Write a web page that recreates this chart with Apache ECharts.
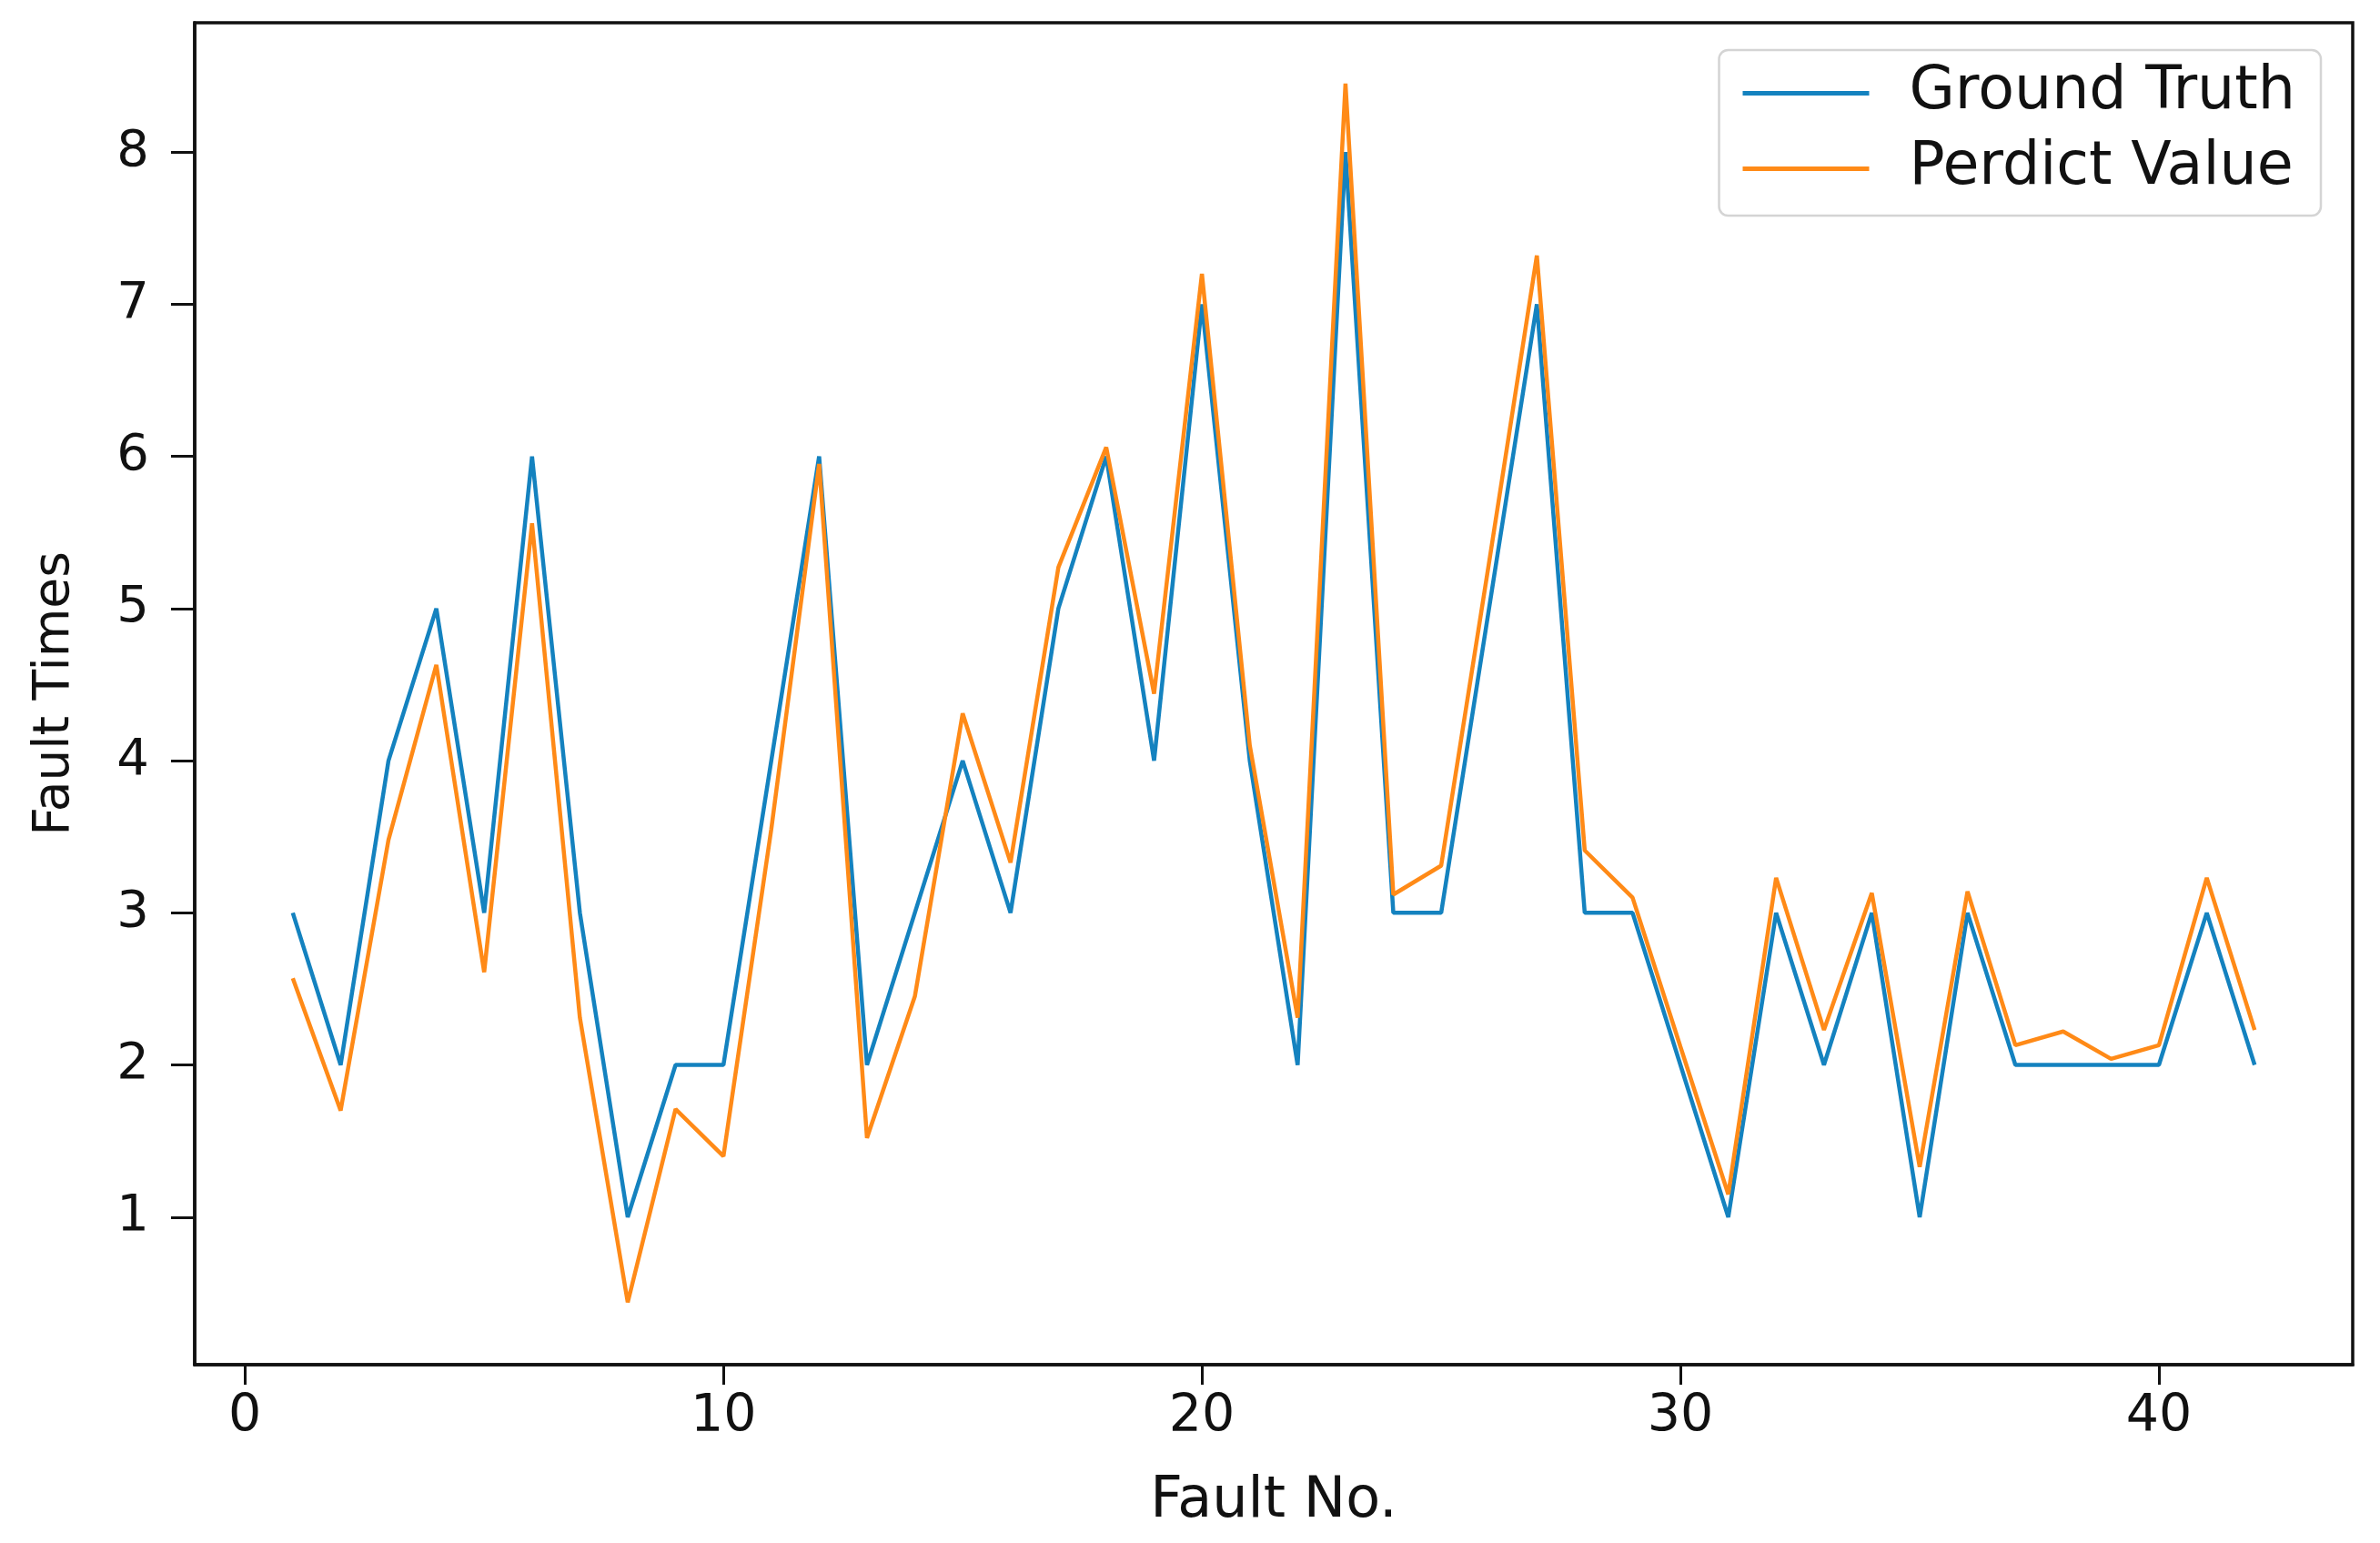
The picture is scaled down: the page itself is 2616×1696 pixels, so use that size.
<!DOCTYPE html>
<html>
<head>
<meta charset="utf-8">
<script src="https://cdn.jsdelivr.net/npm/echarts@6/dist/echarts.min.js"></script>
<style>
html,body{margin:0;padding:0;background:#fff;}
#chart{width:2616px;height:1696px;}
</style>
</head>
<body>
<div id="chart"></div>
<script>
const faultNo = [1,2,3,4,5,6,7,8,9,10,11,12,13,14,15,16,17,18,19,20,21,22,23,24,25,26,27,28,29,30,31,32,33,34,35,36,37,38,39,40,41,42];
const groundTruth = [3,2,4,5,3,6,3,1,2,2,4,6,2,3,4,3,5,6,4,7,4,2,8,3,3,5,7,3,3,2,1,3,2,3,1,3,2,2,2,2,3,2];
const predictValue = [2.57,1.70,3.48,4.63,2.61,5.56,2.31,0.44,1.71,1.40,3.55,5.95,1.52,2.45,4.31,3.33,5.27,6.06,4.44,7.20,4.10,2.31,8.45,3.12,3.31,5.30,7.32,3.41,3.10,2.12,1.15,3.23,2.23,3.13,1.33,3.14,2.13,2.22,2.04,2.13,3.23,2.23];
const xTicks = [0,10,20,30,40];
const yTicks = [1,2,3,4,5,6,7,8];
const seriesNames = ['Ground Truth','Perdict Value'];

const chart = echarts.init(document.getElementById('chart'), null, {renderer:'canvas'});
const font = 'DejaVu Sans';
chart.setOption({
  animation:false,
  backgroundColor:'#fff',
  grid:{left:214,right:30,top:25,bottom:196,show:true,borderColor:'#111',borderWidth:3.5,backgroundColor:'transparent'},
  legend:{
    orient:'vertical', right:65, top:55,
    data:seriesNames.map(n=>({name:n,icon:'rect'})),
    itemWidth:139, itemHeight:5, itemGap:18,
    padding:[15,28,19,26],
    borderColor:'#d4d4d4', borderWidth:2.5, borderRadius:10,
    backgroundColor:'rgba(255,255,255,0.8)',
    textStyle:{fontFamily:font,fontSize:65,color:'#111',lineHeight:65,padding:[0,0,0,39]}
  },
  xAxis:{
    type:'value', min:-1.05, max:44.05,
    name:'Fault No.', nameLocation:'middle', nameGap:120,
    nameTextStyle:{fontFamily:font,fontSize:62,color:'#111'},
    axisLine:{show:true,onZero:false,lineStyle:{color:'#111',width:3.5}},
    axisTick:{show:true,length:22,lineStyle:{color:'#111',width:3},customValues:xTicks},
    axisLabel:{fontFamily:font,fontSize:57,color:'#111',margin:30,customValues:xTicks},
    splitLine:{show:false}
  },
  yAxis:{
    type:'value', min:0.03, max:8.85,
    name:'Fault Times', nameLocation:'middle', nameGap:126, nameRotate:90,
    nameTextStyle:{fontFamily:font,fontSize:55,color:'#111'},
    axisLine:{show:true,onZero:false,lineStyle:{color:'#111',width:3.5}},
    axisTick:{show:true,length:26,lineStyle:{color:'#111',width:3},customValues:yTicks},
    axisLabel:{fontFamily:font,fontSize:56,color:'#111',margin:50,customValues:yTicks},
    splitLine:{show:false}
  },
  series:[
    {name:seriesNames[0],type:'line',symbol:'none',color:'#1482bf',
     lineStyle:{width:4.5,color:'#1482bf'},
     data:faultNo.map((x,i)=>[x,groundTruth[i]]), z:2},
    {name:seriesNames[1],type:'line',symbol:'none',color:'#ff8a17',
     lineStyle:{width:4.5,color:'#ff8a17'},
     data:faultNo.map((x,i)=>[x,predictValue[i]]), z:3}
  ]
});
</script>
</body>
</html>
